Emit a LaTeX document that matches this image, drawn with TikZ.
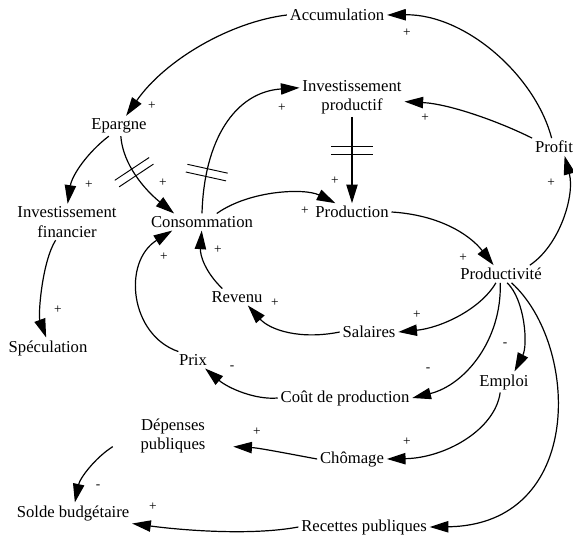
\documentclass[tikz,border=0pt]{standalone}
\usepackage{fontspec}
\setmainfont{Liberation Serif}
\usetikzlibrary{arrows.meta}
\begin{document}
\begin{tikzpicture}[x=0.75pt,y=-0.75pt,
  lbl/.style={inner sep=2pt, font=\fontsize{12.5}{14.5}\selectfont, align=center},
  sgn/.style={inner sep=0pt, font=\fontsize{10}{11}\selectfont},
  arr/.style={line width=0.9pt, -{Triangle[length=14pt,width=8.5pt]}},
  hashbox/.style={sloped, allow upside down, draw=none, inner sep=0pt, minimum width=5pt, minimum height=30pt},
  hashline/.style={line width=0.7pt}
]
\path[fill=white] (0,0) rectangle (573,541);
\useasboundingbox (0,0) rectangle (573,541);

\node[lbl] (acc) at (337,15) {Accumulation};
\node[lbl] (epa) at (119,126) {Epargne};
\node[lbl] (invp) at (352,97) {Investissement\\productif};
\node[lbl] (prof) at (554,147) {Profit};
\node[lbl] (invf) at (67,222) {Investissement\\financier};
\node[lbl] (con) at (202,222) {Consommation};
\node[lbl] (prod) at (352,212) {Production};
\node[lbl] (prodv) at (501,274) {Productivité};
\node[lbl] (rev) at (237,297) {Revenu};
\node[lbl] (sal) at (369,332) {Salaires};
\node[lbl] (spec) at (48,348) {Spéculation};
\node[lbl] (prix) at (193,360) {Prix};
\node[lbl] (cout) at (345,398) {Coût de production};
\node[lbl] (emp) at (504,382) {Emploi};
\node[lbl, minimum width=90pt] (dep) at (173,436) {Dépenses\\publiques};
\node[lbl] (chom) at (352,459) {Chômage};
\node[lbl] (sol) at (73,513) {Solde budgétaire};
\node[lbl] (rec) at (364,527) {Recettes publiques};

\draw[arr] (prof.105) .. controls (535,75) and (465,14) .. (acc.east);
\draw[arr] (acc.west) .. controls (230,22) and (165,60) .. (epa.55);
\draw[arr] (prof.north west) .. controls (500,122) and (450,104) .. (invp.-5);
\draw[arr] (con.north) .. controls (204,140) and (235,92) .. node[hashbox, pos=0.2] (h1) {} (invp.170);
\draw[arr] (invp.south) -- node[hashbox, pos=0.39] (h2) {} (prod.north);
\draw[arr] (epa.-80) .. controls (123,165) and (145,190) .. node[hashbox, pos=0.44] (h3) {} (con.163);
\draw[arr] (epa.-135) .. controls (88,152) and (72,175) .. (invf.88);
\draw[arr] (invf.-122) .. controls (42,262) and (38,315) .. (spec.100);
\draw[arr] (con.30) .. controls (250,190) and (305,188) .. (prod.152);
\draw[arr] (prod.east) .. controls (440,215) and (470,235) .. (prodv.130);
\draw[arr] (prodv.17) .. controls (560,245) and (575,195) .. (prof.-40);
\draw[arr] (prodv.-120) .. controls (480,310) and (440,328) .. (sal.east);
\draw[arr] (sal.west) .. controls (300,340) and (270,330) .. (rev.-38);
\draw[arr] (rev.150) .. controls (205,272) and (200,255) .. (con.-92);
\draw[arr] (prix.150) .. controls (130,335) and (122,262) .. (con.-164);
\draw[arr] (cout.west) .. controls (255,400) and (228,388) .. (prix.-35);
\draw[arr] (prodv.-95) .. controls (502,340) and (465,385) .. (cout.east);
\draw[arr] (prodv.-55) .. controls (525,300) and (528,345) .. (emp.45);
\draw[arr] (emp.-110) .. controls (495,430) and (445,458) .. (chom.east);
\draw[arr] (prodv.-40) .. controls (580,345) and (585,525) .. (rec.east);
\draw[arr] (chom.west) .. controls (295,455) and (260,448) .. (dep.-10);
\draw[arr] (dep.-170) .. controls (95,458) and (80,478) .. (sol.80);
\draw[arr] (rec.west) .. controls (250,536) and (180,530) .. (sol.south east);

\foreach \h in {h1,h2,h3}{
  \draw[hashline] (\h.north west) -- (\h.south west) (\h.north east) -- (\h.south east);
}

\node[sgn] (s1) at (407,33) {+};
\node[sgn] (s2) at (152,106) {+};
\node[sgn] (s3) at (425,118) {+};
\node[sgn] (s4) at (282,108) {+};
\node[sgn] (s5) at (335,181) {+};
\node[sgn] (s6) at (305,211) {+};
\node[sgn] (s7) at (163,183) {+};
\node[sgn] (s8) at (89,185) {+};
\node[sgn] (s9) at (58,310) {+};
\node[sgn] (s10) at (463,258) {+};
\node[sgn] (s11) at (551,183) {+};
\node[sgn] (s12) at (417,315) {+};
\node[sgn] (s13) at (275,303) {+};
\node[sgn] (s14) at (218,250) {+};
\node[sgn] (s15) at (164,257) {+};
\node[sgn] (s16) at (232,368) {-};
\node[sgn] (s17) at (428,370) {-};
\node[sgn] (s18) at (505,345) {-};
\node[sgn] (s19) at (407,442) {+};
\node[sgn] (s20) at (257,432) {+};
\node[sgn] (s21) at (98,487) {-};
\node[sgn] (s22) at (153,507) {+};
\end{tikzpicture}
\end{document}
